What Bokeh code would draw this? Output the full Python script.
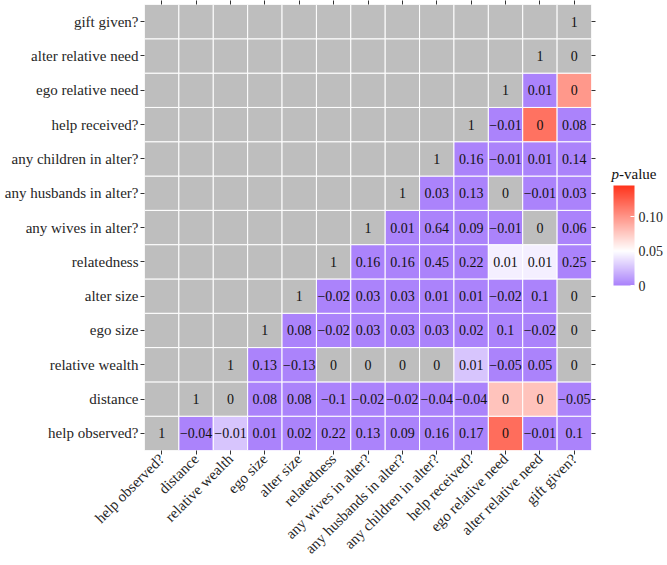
from math import pi
import numpy as np
from bokeh.plotting import figure
from bokeh.models import (ColumnDataSource, LinearColorMapper, ColorBar, FixedTicker,
                          CategoricalAxis)
from bokeh.layouts import row
from bokeh.embed import file_html
from bokeh.resources import INLINE
from bokeh.core.properties import value

# ---------------- data ----------------
variables = ["help observed?", "distance", "relative wealth", "ego size", "alter size",
             "relatedness", "any wives in alter?", "any husbands in alter?",
             "any children in alter?", "help received?", "ego relative need",
             "alter relative need", "gift given?"]

# correlations, row i holds columns i..12
corr_help_observed = [1, -0.04, -0.01, 0.01, 0.02, 0.22, 0.13, 0.09, 0.16, 0.17, 0, -0.01, 0.1]
corr_distance = [1, 0, 0.08, 0.08, -0.1, -0.02, -0.02, -0.04, -0.04, 0, 0, -0.05]
corr_relative_wealth = [1, 0.13, -0.13, 0, 0, 0, 0, 0.01, -0.05, 0.05, 0]
corr_ego_size = [1, 0.08, -0.02, 0.03, 0.03, 0.03, 0.02, 0.1, -0.02, 0]
corr_alter_size = [1, -0.02, 0.03, 0.03, 0.01, 0.01, -0.02, 0.1, 0]
corr_relatedness = [1, 0.16, 0.16, 0.45, 0.22, 0.01, 0.01, 0.25]
corr_wives = [1, 0.01, 0.64, 0.09, -0.01, 0, 0.06]
corr_husbands = [1, 0.03, 0.13, 0, -0.01, 0.03]
corr_children = [1, 0.16, -0.01, 0.01, 0.14]
corr_help_received = [1, -0.01, 0, 0.08]
corr_ego_need = [1, 0.01, 0]
corr_alter_need = [1, 0]
corr_gift_given = [1]

# p-values (None = not available, drawn grey)
N = None
p_help_observed = [N, .001, .027, .001, .001, .001, .001, .001, .001, .001, .118, .001, .001]
p_distance = [N, N, .001, .001, .001, .001, .001, .001, .001, .078, .078, .001]
p_relative_wealth = [N, .001, .001, N, N, N, N, .027, .001, .001, N]
p_ego_size = [N, .001, .001, .001, .001, .001, .001, .001, .001, N]
p_alter_size = [N, .001, .001, .001, .001, .001, .001, .001, N]
p_relatedness = [N, .001, .001, .001, .001, .044, .044, .001]
p_wives = [N, .001, .001, .001, .001, N, .001]
p_husbands = [N, .001, .001, N, .001, .001]
p_children = [N, .001, .001, .001, .001]
p_help_received = [N, .001, .116, .001]
p_ego_need = [N, .001, .098]
p_alter_need = [N, N]
p_gift_given = [N]

corr_rows = [corr_help_observed, corr_distance, corr_relative_wealth, corr_ego_size,
             corr_alter_size, corr_relatedness, corr_wives, corr_husbands, corr_children,
             corr_help_received, corr_ego_need, corr_alter_need, corr_gift_given]
p_rows = [p_help_observed, p_distance, p_relative_wealth, p_ego_size, p_alter_size,
          p_relatedness, p_wives, p_husbands, p_children, p_help_received, p_ego_need,
          p_alter_need, p_gift_given]

P_MIN, P_MID, P_MAX = 0.0, 0.05, 0.145
legend_ticks = [0, 0.05, 0.1]
legend_tick_labels = {0: "0", 0.05: "0.05", 0.1: "0.10"}

# ---------------- palette (purple - white - red, mid at 0.05) ----------------
LOW = (170, 130, 251)
MID = (255, 255, 255)
HIGH = (255, 52, 28)
palette = []
for k in range(256):
    v = P_MIN + (P_MAX - P_MIN) * k / 255
    if v <= P_MID:
        t = v / P_MID
        c = [LOW[i] + (MID[i] - LOW[i]) * t for i in range(3)]
    else:
        t = (v - P_MID) / (P_MAX - P_MID)
        c = [MID[i] + (HIGH[i] - MID[i]) * t for i in range(3)]
    palette.append("#%02x%02x%02x" % tuple(int(round(x)) for x in c))

mapper = LinearColorMapper(palette=palette, low=P_MIN, high=P_MAX, nan_color="#bebebe")

# ---------------- cells ----------------
xs, ys, ps, labels = [], [], [], []
for i, yv in enumerate(variables):
    for j, xv in enumerate(variables):
        xs.append(xv)
        ys.append(yv)
        if j >= i:
            c = corr_rows[i][j - i]
            pv = p_rows[i][j - i]
            ps.append(np.nan if pv is None else pv)
            labels.append(f"{c:g}".replace("-", "\u2212"))
        else:
            ps.append(np.nan)
            labels.append("")

src = ColumnDataSource(dict(x=xs, y=ys, p=ps, label=labels))

FONT = "Liberation Serif"
TXT = "#262626"
FRAME_H = 446

p = figure(x_range=variables, y_range=variables, frame_width=447, frame_height=FRAME_H,
           output_backend="svg", toolbar_location=None,
           min_border_left=144, min_border_right=5, min_border_top=3, min_border_bottom=0,
           outline_line_color=None, background_fill_color="white")

p.rect(x="x", y="y", width=1, height=1, source=src,
       fill_color={"field": "p", "transform": mapper},
       line_color="white", line_width=1)
p.text(x="x", y="y", text="label", source=src, text_font=value(FONT),
       text_font_size=value("14px"), text_align="center", text_baseline="middle",
       text_color="#111111")

p.xgrid.grid_line_color = None
p.ygrid.grid_line_color = None

for ax in (p.xaxis[0], p.yaxis[0]):
    ax.axis_line_color = None
    ax.major_tick_line_color = "#333333"
    ax.major_tick_out = 4
    ax.major_tick_in = 0
    ax.major_label_text_font = FONT
    ax.major_label_text_color = TXT
    ax.major_label_standoff = 2
    ax.major_label_text_font_size = "15px"

p.xaxis[0].major_label_orientation = pi / 4

# tick marks (no labels) on the top and right edges
for side in ("above", "right"):
    ax = CategoricalAxis(axis_line_color=None, major_tick_line_color="#333333",
                         major_tick_out=4, major_tick_in=0,
                         major_label_text_font_size="1px", major_label_text_color=None,
                         major_label_standoff=0)
    p.add_layout(ax, side)

# ---------------- legend ----------------
LW = 70
TOP = 3 + FRAME_H  # page y of frame bottom
lg = figure(width=LW, frame_height=FRAME_H, x_range=(0, LW), y_range=(0, FRAME_H),
            output_backend="svg", toolbar_location=None, min_border=0, min_border_top=3,
            outline_line_color=None)
lg.axis.visible = False
lg.xgrid.grid_line_color = None
lg.ygrid.grid_line_color = None

lg.text(x=[15], y=[TOP - 172], text=["p"], text_font=value(FONT),
        text_font_size=value("15px"), text_font_style="italic",
        text_align="left", text_baseline="middle", text_color="#111111")
lg.text(x=[22.5], y=[TOP - 172], text=["-value"], text_font=value(FONT),
        text_font_size=value("15px"), text_align="left", text_baseline="middle",
        text_color="#111111")

cb = ColorBar(color_mapper=mapper, width=21, height=100, location=(17, TOP - 284),
              ticker=FixedTicker(ticks=legend_ticks),
              major_label_overrides=legend_tick_labels,
              major_label_text_font=FONT, major_label_text_font_size="14px",
              major_label_text_color=TXT, label_standoff=4,
              major_tick_line_color="white", major_tick_in=4, major_tick_out=0,
              minor_tick_line_color=None, bar_line_color=None, padding=0,
              background_fill_alpha=0, border_line_color=None)
lg.add_layout(cb, "center")

layout = row(p, lg, spacing=0)
open("out.html", "w").write(file_html(layout, INLINE))
